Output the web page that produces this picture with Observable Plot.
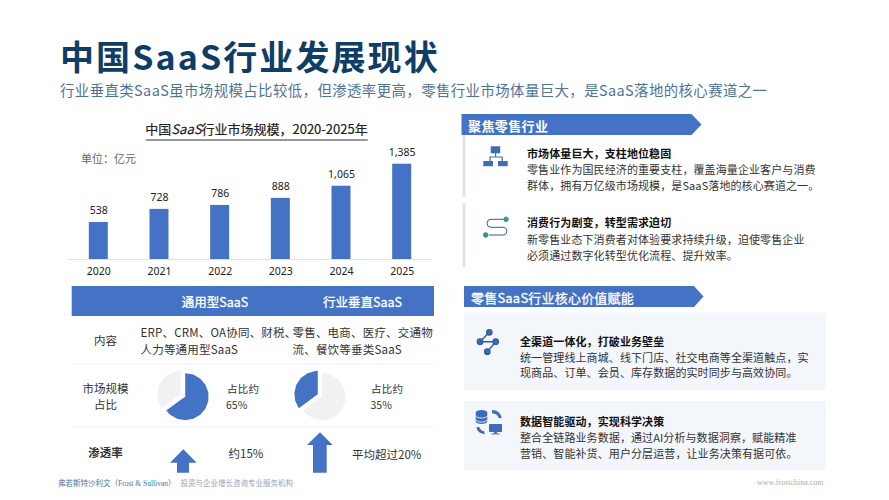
<!DOCTYPE html>
<html lang="zh">
<head>
<meta charset="utf-8">
<script src="https://cdn.jsdelivr.net/npm/d3@7"></script>
<script src="https://cdn.jsdelivr.net/npm/@observablehq/plot@0.6"></script>
<style>
html,body{margin:0;padding:0;background:#fff;}
#page{position:relative;width:889px;height:500px;overflow:hidden;font-family:"Noto Sans CJK SC","Noto Sans",sans-serif;color:#222;}
.t{position:absolute;white-space:nowrap;transform:translateY(-50%);line-height:1;}
.c{transform:translate(-50%,-50%);}
.abs{position:absolute;}
.abs svg{display:block;overflow:visible;}
</style>
</head>
<body>
<div id="page">
<svg class="abs" width="889" height="500" style="left:0;top:0" id="deco">
  <!-- section headers -->
  <polygon points="461.5,114 691.5,114 701.5,124.5 691.5,135 461.5,135" fill="#4472c4"/>
  <polygon points="464,286 694,286 703.5,296.5 694,307 464,307" fill="#4472c4"/>
  <rect x="462.5" y="135" width="3" height="62" fill="#dde3f0"/>
  <rect x="462.5" y="203" width="3" height="64" fill="#dde3f0"/>
  <rect x="464" y="312.5" width="362" height="77.5" fill="#f3f6fb"/>
  <rect x="464" y="401" width="362" height="69" fill="#f3f6fb"/>
  <!-- table band and separators -->
  <rect x="71.7" y="286" width="362.3" height="30" fill="#4472c4"/>
  <line x1="72" x2="434" y1="364" y2="364" stroke="#eef1f5"/>
  <line x1="72" x2="434" y1="427" y2="427" stroke="#eef1f5"/>
  <!-- penetration arrows -->
  <polygon points="183.3,449.3 196.7,462.7 189,462.7 189,472.7 177,472.7 177,462.7 170,462.7" fill="#4472c4"/>
  <polygon points="320,432.3 332.7,445 326.7,445 326.7,472.7 313,472.7 313,445 307,445" fill="#4472c4"/>
  <!-- icon: org tree -->
  <g fill="#3f6db5">
    <rect x="490.7" y="146.3" width="9.5" height="7"/>
    <rect x="483.3" y="161" width="9.7" height="5.2"/>
    <rect x="498" y="161" width="9.7" height="5.2"/>
    <path d="M495 153h1.2v3.4h6.6v4.6h-1.2v-3.4h-11v3.4h-1.2v-4.6h5.6z"/>
  </g>
  <!-- icon: S path -->
  <path d="M503 219.3H491a4 4 0 0 0 0 8H504a4 4 0 0 1 0 7.7H489" fill="none" stroke="#2f5f9e" stroke-width="1"/>
  <circle cx="506" cy="219.3" r="2.4" fill="#2e9e8f" stroke="#2f5f9e" stroke-width=".5"/>
  <circle cx="485.7" cy="235" r="2.4" fill="#2e9e8f" stroke="#2f5f9e" stroke-width=".5"/>
  <!-- icon: share nodes -->
  <g stroke="#2f5f9e" stroke-width="1.5" fill="#3f6db5">
    <path d="M480 341.7L489.3 332.3M480 341.7H495.7L487.3 351.7" fill="none"/>
    <circle cx="489.3" cy="332.3" r="2.6"/>
    <circle cx="480" cy="341.7" r="2.6"/>
    <circle cx="495.7" cy="341.7" r="2.6"/>
    <circle cx="487.3" cy="351.7" r="2.6"/>
  </g>
  <!-- icon: database and monitor -->
  <g fill="#3f6db5">
    <path d="M475.7 412.5a5.8 2.6 0 0 1 11.6 0v9a5.8 2.6 0 0 1 -11.6 0z"/>
    <path d="M475.7 415.5a5.8 2.6 0 0 0 11.6 0M475.7 419.5a5.8 2.6 0 0 0 11.6 0" fill="none" stroke="#fff" stroke-width=".8"/>
    <rect x="489" y="424" width="13" height="8" rx=".8"/>
    <rect x="494" y="432" width="3" height="1.6"/>
    <rect x="491.5" y="433.4" width="8" height="1"/>
    <path d="M492 410q8 0 9.6 8l-2.8 .2q-1.4-4.8-6.8-5z"/>
    <path d="M476.5 427q.4 6 8 7.3v-2.8q-4-.8-5.2-4.5z"/>
  </g>
</svg>
</div>
<script>
// ---- chart values ----
const years = ["2020","2021","2022","2023","2024","2025"];
const marketSize = [538,728,786,888,1065,1385];
const genericShare = [65,35];     // clockwise from 12 o'clock: 通用型, 其他
const verticalShare = [65,35];    // clockwise from 12 o'clock: 其他, 行业垂直
const genericColors = ["#4472c4","#f1f1f1"];
const verticalColors = ["#f1f1f1","#4472c4"];

// ---- texts ---- (\uFF0C = full-width comma, \uFF1A = full-width colon)
const pageTitle = "中国SaaS行业发展现状";
const pageSubtitle = "行业垂直类SaaS虽市场规模占比较低\uFF0C但渗透率更高\uFF0C零售行业市场体量巨大\uFF0C是SaaS落地的核心赛道之一";
const sectionHeads = ["聚焦零售行业","零售SaaS行业核心价值赋能"];
const columnHeads = ["通用型SaaS","行业垂直SaaS"];
const retailCards = [
  ["市场体量巨大\uFF0C支柱地位稳固","零售业作为国民经济的重要支柱\uFF0C覆盖海量企业客户与消费","群体\uFF0C拥有万亿级市场规模\uFF0C是SaaS落地的核心赛道之一。"],
  ["消费行为剧变\uFF0C转型需求迫切","新零售业态下消费者对体验要求持续升级\uFF0C迫使零售企业","必须通过数字化转型优化流程、提升效率。"]
];
const valueCards = [
  ["全渠道一体化\uFF0C打破业务壁垒","统一管理线上商城、线下门店、社交电商等全渠道触点\uFF0C实","现商品、订单、会员、库存数据的实时同步与高效协同。"],
  ["数据智能驱动\uFF0C实现科学决策","整合全链路业务数据\uFF0C通过AI分析与数据洞察\uFF0C赋能精准","营销、智能补货、用户分层运营\uFF0C让业务决策有据可依。"]
];

const page = document.getElementById("page");
function text(str, x, y, o = {}) {
  const d = document.createElement("div");
  d.className = "t" + (o.center ? " c" : "");
  d.textContent = str;
  d.style.left = x + "px";
  d.style.top = y + "px";
  d.style.fontSize = (o.size || 11) + "px";
  d.style.fontWeight = o.weight || 400;
  d.style.color = o.color || "#333";
  if (o.spacing) d.style.letterSpacing = o.spacing + "px";
  if (o.family) d.style.fontFamily = o.family;
  if (o.stroke) d.style.webkitTextStroke = o.stroke;
  if (o.html) d.innerHTML = o.html;
  page.appendChild(d);
  return d;
}
function place(node, left, top) {
  const w = document.createElement("div");
  w.className = "abs";
  w.style.left = left + "px";
  w.style.top = top + "px";
  w.appendChild(node);
  page.appendChild(w);
}

// ---- heading ----
text(pageTitle, 60, 56, {size: 34, weight: 700, color: "#0f3d66", spacing: 2.1});
text(pageSubtitle, 60, 90, {size: 14.4, color: "#4f7397", spacing: 0.43});

// ---- bar chart ----
text("", 256.5, 128, {size: 13, color: "#222", center: true,
  html: '<span style="border-bottom:1px solid #333;padding-bottom:2px;-webkit-text-stroke:.2px #222">中国<i>SaaS</i>行业市场规模\uFF0C2020-2025年</span>'});
text("单位\uFF1A亿元", 81, 158, {size: 11, color: "#666"});

const rows = years.map((year, i) => ({year, value: marketSize[i]}));
place(Plot.plot({
  width: 364, height: 142,
  marginLeft: 0, marginRight: 0, marginTop: 23.7, marginBottom: 23,
  style: {background: "transparent", fontFamily: '"Noto Sans",sans-serif'},
  x: {domain: years, paddingInner: 0.687, paddingOuter: 0.343, round: false, label: null},
  y: {domain: [0, 1385], axis: null},
  marks: [
    Plot.barY(rows, {x: "year", y: "value", fill: "#4472c4"}),
    Plot.ruleY([0], {stroke: "#dde3ea"}),
    Plot.text(rows, {x: "year", y: "value", text: d => d3.format(",")(d.value), dy: -12, fontSize: 10.5, fill: "#222"}),
    Plot.axisX({tickSize: 0, tickPadding: 8, fontSize: 10.5, color: "#222", label: null})
  ]
}), 68, 140);

// ---- comparison table ----
text(columnHeads[0], 215, 302, {size: 12.5, color: "#fff", center: true, stroke: ".3px #fff"});
text(columnHeads[1], 362.5, 302, {size: 12.5, color: "#fff", center: true, stroke: ".3px #fff"});
text("内容", 105.5, 341, {size: 11.5, center: true});
text("ERP、CRM、OA协同、财税、", 140.5, 333, {size: 11.5, spacing: 0.2});
text("人力等通用型SaaS", 140.5, 349.5, {size: 11.5, spacing: 0.2});
text("零售、电商、医疗、交通物", 292.5, 333, {size: 11.5, spacing: 0.2});
text("流、餐饮等垂类SaaS", 292.5, 349.5, {size: 11.5, spacing: 0.2});
text("市场规模", 105.5, 389, {size: 11.5, center: true});
text("占比", 105.5, 405, {size: 11.5, center: true});
text("占比约", 227, 388.5, {size: 10.5, spacing: 0.2});
text(genericShare[0] + "%", 226, 404.5, {size: 10.5});
text("占比约", 371, 388.5, {size: 10.5, spacing: 0.2});
text(verticalShare[1] + "%", 370.5, 404.5, {size: 10.5});
text("渗透率", 105.5, 453, {size: 11.5, weight: 700, center: true});
text("约15%", 228.5, 454, {size: 11.5});
text("平均超过20%", 352, 455, {size: 11.5});

// Pie slices drawn by Plot.geo on a polar azimuthal projection:
// longitude carries the angle, the equator is the pie's rim.
function pie(shares, colors, left, top, w, h, cx, cy, r, explode) {
  const total = d3.sum(shares);
  let acc = 0;
  const marks = shares.map((s, i) => {
    const a0 = acc / total * 360, a1 = (acc + s) / total * 360;
    acc += s;
    const ring = [[0, 90]];
    for (let a = a0; a < a1; a += 20) ring.push([180 - a, 0]);
    ring.push([180 - a1, 0], [0, 90]);
    const mid = (a0 + a1) / 2 * Math.PI / 180;
    return Plot.geo({type: "Polygon", coordinates: [ring]}, {
      fill: colors[i], stroke: "none",
      dx: Math.sin(mid) * explode, dy: -Math.cos(mid) * explode
    });
  });
  place(Plot.plot({
    width: w, height: h, margin: 0,
    style: {background: "transparent"},
    projection: () => d3.geoAzimuthalEquidistant().rotate([0, -90]).scale(r / (Math.PI / 2)).translate([cx, cy]),
    marks
  }), left, top);
}
pie(genericShare, genericColors, 150, 364, 70, 62, 32.5, 31, 23.5, 2.5);
pie(verticalShare, verticalColors, 285, 364, 70, 62, 34.5, 31, 23.5, 2.5);

// ---- right column ----
text(sectionHeads[0], 468, 124.5, {size: 13, weight: 700, color: "#fff", spacing: 0.4});
text(sectionHeads[1], 471, 296.5, {size: 13, color: "#fff", spacing: 0.2, stroke: ".3px #fff"});
function card(lines, x, y0, y1, y2) {
  text(lines[0], x, y0, {size: 11, weight: 700, color: "#111", spacing: 0.1});
  text(lines[1], x, y1, {size: 11, color: "#333", spacing: 0.1});
  text(lines[2], x, y2, {size: 11, color: "#333", spacing: 0.1});
}
card(retailCards[0], 527, 152.7, 168.7, 185);
card(retailCards[1], 527, 222, 238.5, 254.7);
card(valueCards[0], 520, 340.7, 356.7, 372.3);
card(valueCards[1], 520, 420.7, 437.3, 452.7);

// ---- footer ----
text("", 58, 483, {size: 7.5, html: '<span style="color:#4f7397;font-family:\'Liberation Serif\',\'Noto Sans CJK SC\',serif">弗若斯特沙利文\uFF08Frost &amp; Sullivan\uFF09</span><span style="color:#9aa3ad;margin-left:5px">投资与企业增长咨询专业服务机构</span>'});
text("www.frostchina.com", 757, 483, {size: 8, color: "#a8adb3", family: '"Liberation Serif",serif'});
</script>
</body>
</html>
